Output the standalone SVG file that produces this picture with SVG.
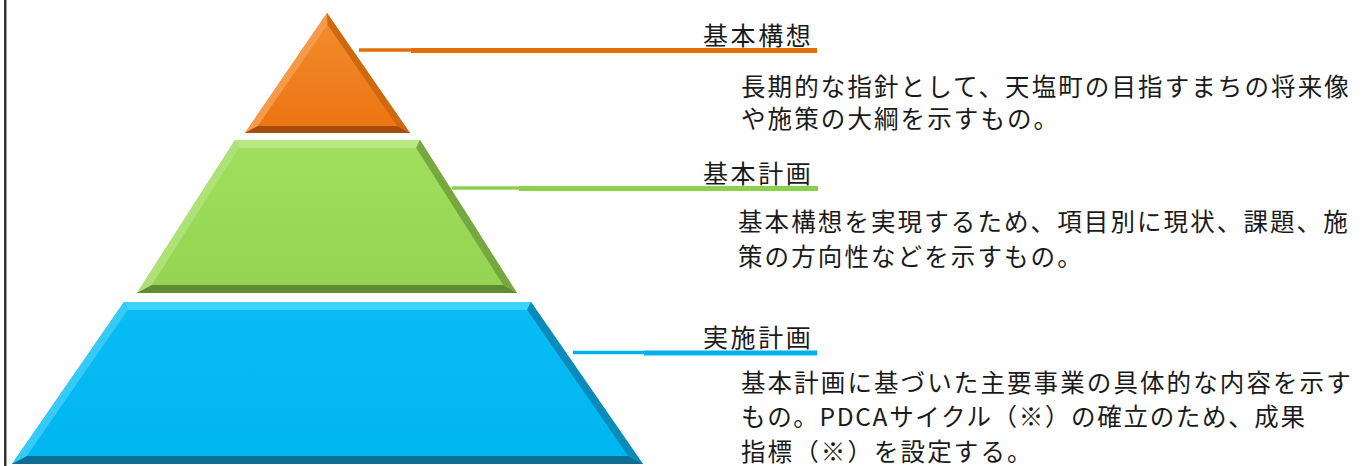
<svg xmlns="http://www.w3.org/2000/svg" width="1368" height="466" viewBox="0 0 1368 466">
<style>
.lbl{font-family:"Noto Sans CJK JP","Noto Sans",sans-serif;font-size:25px;letter-spacing:2.6px;fill:#1a1a1a}
.body{font-family:"Noto Sans CJK JP","Noto Sans",sans-serif;font-size:24.5px;letter-spacing:2.1px;fill:#1a1a1a}
.thin{stroke-width:3.5;fill:none}
.thick{stroke-width:5;fill:none}
</style>
<defs>
<linearGradient id="gO" x1="0" y1="0" x2="0" y2="1"><stop offset="0" stop-color="#F38A2A"/><stop offset="1" stop-color="#EC7512"/></linearGradient>
<linearGradient id="gG" x1="0" y1="0" x2="0" y2="1"><stop offset="0" stop-color="#A0DE5E"/><stop offset="1" stop-color="#95D452"/></linearGradient>
<linearGradient id="gB" x1="0" y1="0" x2="0" y2="1"><stop offset="0" stop-color="#08BDF5"/><stop offset="1" stop-color="#00B6F0"/></linearGradient>
</defs>
<rect x="4" y="0" width="2.5" height="466" fill="#333"/>

<g id="tier-top">
<polygon points="327,13 410,133 245,133" fill="url(#gO)"/>
<polygon points="327,13 327.5,25 258,126 245,133" fill="#F49A48"/>
<polygon points="327,13 410,133 397,126 327.5,25" fill="#D0680F"/>
<polygon points="245,133 410,133 397,126 258,126" fill="#A24E0C"/>
<polygon points="327.5,25 397,126 258,126" fill="url(#gO)"/>
</g>

<g id="tier-mid">
<polygon points="235,140 420,140 517,293 137,293" fill="url(#gG)"/>
<polygon points="235,140 420,140 416,148 239,148" fill="#B6E784"/>
<polygon points="235,140 239,148 152,285 137,293" fill="#AEE277"/>
<polygon points="420,140 517,293 503,285 416,148" fill="#76A83F"/>
<polygon points="137,293 517,293 503,285 152,285" fill="#5E8C30"/>
<polygon points="239,148 416,148 503,285 152,285" fill="url(#gG)"/>
</g>

<g id="tier-bottom">
<polygon points="124,302 531,302 643,464 12,464" fill="url(#gB)"/>
<polygon points="124,302 531,302 527,310 128,310" fill="#3ED3FF"/>
<polygon points="124,302 128,310 27,456 12,464" fill="#35CAF8"/>
<polygon points="531,302 643,464 628,456 527,310" fill="#0A8BBB"/>
<polygon points="12,464 643,464 628,456 27,456" fill="#0D6D92"/>
<polygon points="128,310 527,310 628,456 27,456" fill="url(#gB)"/>
</g>

<g id="connectors">
<line class="thin" x1="359" y1="50" x2="412" y2="50" stroke="#E46C0A"/>
<line class="thick" x1="411" y1="50.5" x2="817" y2="50.5" stroke="#E46C0A"/>
<line class="thin" x1="452" y1="188" x2="520" y2="188" stroke="#8FCF4F"/>
<line class="thick" x1="519" y1="188.5" x2="818" y2="188.5" stroke="#8FCF4F"/>
<line class="thin" x1="573" y1="352.5" x2="645" y2="352.5" stroke="#00B0EC"/>
<line class="thick" x1="644" y1="353" x2="817" y2="353" stroke="#00B0EC"/>
</g>

<g id="label-top">
<text class="lbl" x="703" y="45">基本構想</text>
<text class="body" x="741" y="96">長期的な指針として、天塩町の目指すまちの将来像</text>
<text class="body" x="741" y="128">や施策の大綱を示すもの。</text>
</g>
<g id="label-mid">
<text class="lbl" x="703" y="183">基本計画</text>
<text class="body" x="738" y="231">基本構想を実現するため、項目別に現状、課題、施</text>
<text class="body" x="738" y="266">策の方向性などを示すもの。</text>
</g>
<g id="label-bottom">
<text class="lbl" x="703" y="347">実施計画</text>
<text class="body" x="741" y="392">基本計画に基づいた主要事業の具体的な内容を示す</text>
<text class="body" x="741" y="426" textLength="564" lengthAdjust="spacing" style="letter-spacing:0">もの。PDCAサイクル（※）の確立のため、成果</text>
<text class="body" x="741" y="461">指標（※）を設定する。</text>
</g>
</svg>
